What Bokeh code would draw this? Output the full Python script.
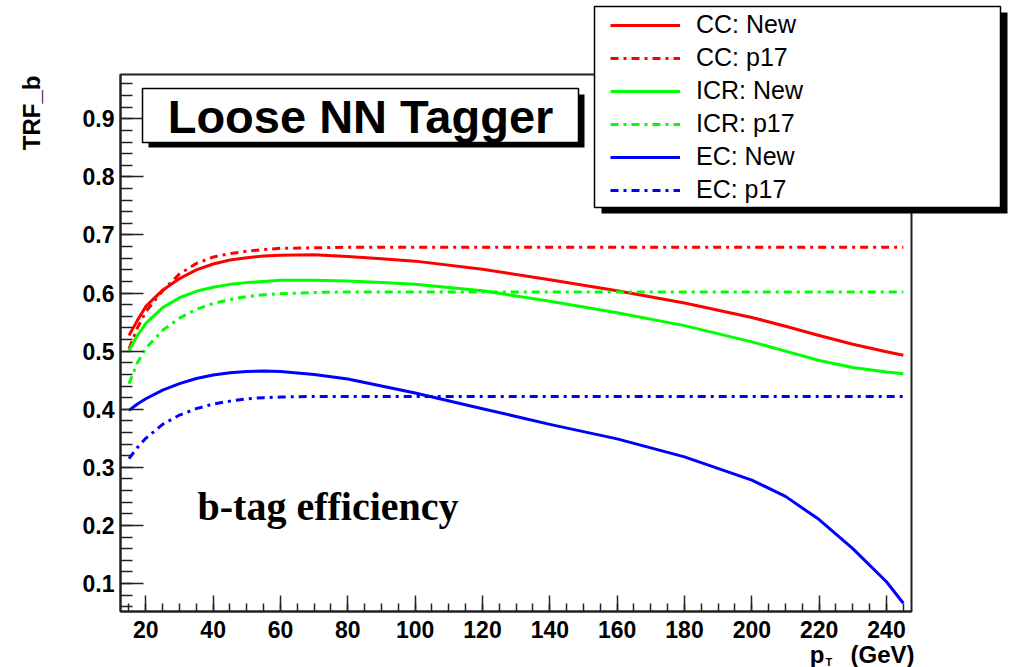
import math
import numpy as np
from bokeh.plotting import figure
from bokeh.models import Range1d, FixedTicker, Label, Legend, LegendItem
from bokeh.embed import file_html
from bokeh.resources import INLINE

# ---- data ----
pt = [15, 17.5, 20, 25, 30, 35, 40, 45, 50, 55, 60, 70, 80, 90, 100, 120, 140, 160,
      180, 200, 210, 220, 230, 240, 245]
cc_new = [0.527, 0.553, 0.577, 0.605, 0.625, 0.640, 0.650, 0.657, 0.661, 0.664, 0.665,
          0.666, 0.663, 0.659, 0.655, 0.641, 0.623, 0.604, 0.583, 0.558, 0.543, 0.527,
          0.512, 0.499, 0.493]
cc_p17 = [0.504, 0.540, 0.568, 0.604, 0.633, 0.651, 0.662, 0.668, 0.672, 0.675, 0.677,
          0.678, 0.679, 0.679, 0.679, 0.679, 0.679, 0.679, 0.679, 0.679, 0.679, 0.679,
          0.679, 0.679, 0.679]
icr_new = [0.501, 0.527, 0.548, 0.575, 0.592, 0.603, 0.610, 0.615, 0.618, 0.620, 0.622,
           0.622, 0.621, 0.618, 0.615, 0.604, 0.586, 0.566, 0.544, 0.516, 0.500, 0.484,
           0.472, 0.464, 0.461]
icr_p17 = [0.444, 0.480, 0.505, 0.536, 0.557, 0.572, 0.582, 0.589, 0.594, 0.597, 0.599,
           0.601, 0.602, 0.602, 0.602, 0.602, 0.602, 0.602, 0.602, 0.602, 0.602, 0.602,
           0.602, 0.602, 0.602]
ec_new = [0.398, 0.409, 0.418, 0.433, 0.444, 0.453, 0.459, 0.463, 0.465, 0.466, 0.465,
          0.460, 0.452, 0.440, 0.428, 0.401, 0.374, 0.349, 0.318, 0.278, 0.250, 0.210,
          0.160, 0.103, 0.066]
ec_p17 = [0.315, 0.334, 0.350, 0.374, 0.390, 0.401, 0.409, 0.414, 0.418, 0.420, 0.421,
          0.422, 0.422, 0.422, 0.422, 0.422, 0.422, 0.422, 0.422, 0.422, 0.422, 0.422,
          0.422, 0.422, 0.422]

x_major = [20, 40, 60, 80, 100, 120, 140, 160, 180, 200, 220, 240]
x_minor = list(range(15, 246, 5))
y_major = [0.1, 0.2, 0.3, 0.4, 0.5, 0.6, 0.7, 0.8, 0.9]
y_minor = [round(0.06 + 0.02 * i, 2) for i in range(46)]

labels = ["CC: New", "CC: p17", "ICR: New", "ICR: p17", "EC: New", "EC: p17"]
colors = ["#ff0000", "#ff0000", "#00ff00", "#00ff00", "#0000ff", "#0000ff"]
series = [cc_new, cc_p17, icr_new, icr_p17, ec_new, ec_p17]
dashes = ["solid", "8 5 3 5", "solid", "8 5 3 5", "solid", "8 5 3 5"]

W, H = 1009, 667

# ---- main figure ----
p = figure(width=W, height=H, output_backend="svg", toolbar_location=None,
           x_range=Range1d(12.48, 247.43), y_range=Range1d(0.0518, 0.9763),
           min_border_left=120, min_border_right=98, min_border_top=74,
           min_border_bottom=56)
p.xgrid.visible = False
p.ygrid.visible = False
p.title.visible = False
p.background_fill_color = "white"
p.border_fill_color = "white"
p.outline_line_color = "#222222"
p.outline_line_width = 2

for ax in (p.xaxis[0], p.yaxis[0]):
    ax.axis_line_color = "#222222"
    ax.axis_line_width = 2
    ax.major_tick_line_color = "#222222"
    ax.minor_tick_line_color = "#222222"
    ax.major_tick_line_width = 1.5
    ax.minor_tick_line_width = 1.5
    ax.major_tick_out = 0
    ax.minor_tick_out = 0
    ax.major_label_text_font = "Liberation Sans"
    ax.major_label_text_font_style = "bold"
    ax.major_label_text_font_size = "23px"
    ax.major_label_text_color = "black"

p.xaxis.ticker = FixedTicker(ticks=x_major, minor_ticks=x_minor)
p.yaxis.ticker = FixedTicker(ticks=y_major, minor_ticks=y_minor)
p.xaxis.major_tick_in = 16
p.xaxis.minor_tick_in = 8
p.yaxis.major_tick_in = 23
p.yaxis.minor_tick_in = 12
p.xaxis.major_label_standoff = 9
p.yaxis.major_label_standoff = 6

for ys, c, d in zip(series, colors, dashes):
    p.line(pt, ys, line_color=c, line_width=3, line_dash=d, line_join="round")

# ---- overlay figure (pixel coordinates) for the boxes, legend and labels ----
q = figure(width=W, height=H, output_backend="svg", toolbar_location=None,
           x_range=Range1d(0, W), y_range=Range1d(H, 0),
           x_axis_type=None, y_axis_type=None,
           min_border_left=0, min_border_right=0, min_border_top=0,
           min_border_bottom=0,
           styles={"position": "absolute", "top": "0px", "left": "0px"})
q.title.visible = False
q.background_fill_alpha = 0
q.border_fill_alpha = 0
q.outline_line_color = None

# title box with shadow
q.quad(left=[148], right=[584], top=[94], bottom=[147], fill_color="black",
       line_color=None)
q.quad(left=[142], right=[578], top=[88], bottom=[142], fill_color="white",
       line_color="black", line_width=1.5)
q.add_layout(Label(x=360, y=116, text="Loose NN Tagger", text_align="center",
                   text_baseline="middle", text_font="Liberation Sans",
                   text_font_style="bold", text_font_size="47px", text_color="black"))

# legend box with shadow
q.quad(left=[601], right=[1007], top=[12], bottom=[213], fill_color="black",
       line_color=None)
q.quad(left=[594], right=[1000], top=[6], bottom=[207], fill_color="white",
       line_color="black", line_width=1.5)
keys = [q.line(np.array([np.nan]), np.array([np.nan]), line_color=c, line_width=3,
               line_dash=d) for c, d in zip(colors, dashes)]
legend = Legend(items=[LegendItem(label=l, renderers=[r]) for l, r in zip(labels, keys)],
                location=(600, 453), glyph_width=70, glyph_height=24, label_height=24,
                label_standoff=16, spacing=4, padding=10, margin=0,
                border_line_alpha=0, background_fill_alpha=0,
                label_text_font="Liberation Sans", label_text_font_size="25px",
                label_text_color="black")
q.add_layout(legend)

# texts
q.add_layout(Label(x=197, y=506, text="b-tag efficiency", text_align="left",
                   text_baseline="middle", text_font="Liberation Serif",
                   text_font_style="bold", text_font_size="40px", text_color="black"))
q.add_layout(Label(x=31, y=75, text="TRF_b", angle=math.pi / 2,
                   text_align="right", text_baseline="middle",
                   text_font="Liberation Sans", text_font_style="bold",
                   text_font_size="24px", text_color="black"))
q.add_layout(Label(x=914, y=654, text="(GeV)", text_align="right",
                   text_baseline="alphabetic", text_font="Liberation Sans",
                   text_font_style="bold", text_font_size="24px", text_color="black"))
q.add_layout(Label(x=824, y=654, text="p", text_align="right",
                   text_baseline="alphabetic", text_font="Liberation Sans",
                   text_font_style="bold", text_font_size="24px", text_color="black"))
q.add_layout(Label(x=825, y=661, text="T", text_align="left",
                   text_baseline="alphabetic", text_font="Liberation Sans",
                   text_font_style="bold", text_font_size="11px", text_color="black"))

open("out.html", "w").write(file_html([p, q], INLINE))
